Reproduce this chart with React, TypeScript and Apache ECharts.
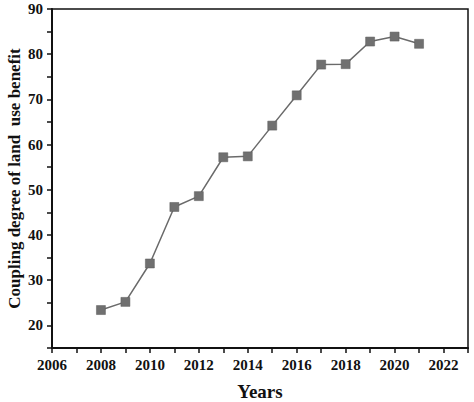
import React, { useEffect, useRef } from 'react';
import * as echarts from 'echarts';

// years on the x axis and the coupling degree
const years = [2008, 2009, 2010, 2011, 2012, 2013, 2014, 2015, 2016, 2017, 2018, 2019, 2020, 2021];
const coupling = [23.4, 25.2, 33.7, 46.2, 48.6, 57.2, 57.4, 64.2, 70.9, 77.7, 77.8, 82.8, 83.9, 82.3];

const xName = 'Years';
const yName = 'Coupling degree of land  use benefit';

const FONT = '"Liberation Serif", "Times New Roman", serif';

const App: React.FC = () => {
  const chartRef = useRef<HTMLDivElement>(null);

  useEffect(() => {
    document.body.style.margin = '0';
    if (!chartRef.current) return;
    const chart = echarts.init(chartRef.current, undefined, { renderer: 'svg' });

    const option = {
      animation: false,
      backgroundColor: '#fff',
      grid: {
        left: 52,
        right: 6,
        top: 9,
        bottom: 54,
        outerBoundsMode: 'none',
        containLabel: false,
        show: true,
        borderColor: '#111',
        borderWidth: 1.5,
      },
      xAxis: {
        type: 'value',
        min: 2006,
        max: 2023,
        interval: 1,
        name: xName,
        nameLocation: 'middle',
        nameGap: 34,
        nameMoveOverlap: false,
        nameTextStyle: { fontFamily: FONT, fontWeight: 'bold', fontSize: 19, color: '#111' },
        axisLine: { show: true, lineStyle: { color: '#111', width: 2 } },
        axisTick: { show: true, length: 5, lineStyle: { color: '#111', width: 1.5 } },
        axisLabel: {
          margin: 9,
          fontFamily: FONT,
          fontWeight: 'bold',
          fontSize: 15,
          color: '#111',
          formatter: (v: number) => (v % 2 === 0 && v <= 2022 ? String(v) : ''),
        },
        splitLine: { show: false },
      },
      yAxis: {
        type: 'value',
        min: 15,
        max: 90,
        interval: 5,
        name: yName,
        nameLocation: 'middle',
        nameGap: 29,
        nameMoveOverlap: false,
        nameTextStyle: { fontFamily: FONT, fontWeight: 'bold', fontSize: 17, color: '#111' },
        axisLine: { show: true, lineStyle: { color: '#111', width: 2 } },
        axisTick: { show: true, length: 5, lineStyle: { color: '#111', width: 1.5 } },
        axisLabel: {
          margin: 9,
          fontFamily: FONT,
          fontWeight: 'bold',
          fontSize: 15,
          color: '#111',
          formatter: (v: number) => (v % 10 === 0 ? String(v) : ''),
        },
        splitLine: { show: false },
      },
      series: [
        {
          type: 'line',
          data: years.map((y, i) => [y, coupling[i]]),
          symbol: 'rect',
          symbolSize: 9,
          lineStyle: { color: '#6a6a6a', width: 1.5 },
          itemStyle: { color: '#707070', borderColor: '#5a5a5a', borderWidth: 0.5 },
        },
      ],
    };

    chart.setOption(option);
    return () => chart.dispose();
  }, []);

  return <div ref={chartRef} style={{ width: 474, height: 402 }} />;
};

export default App;
